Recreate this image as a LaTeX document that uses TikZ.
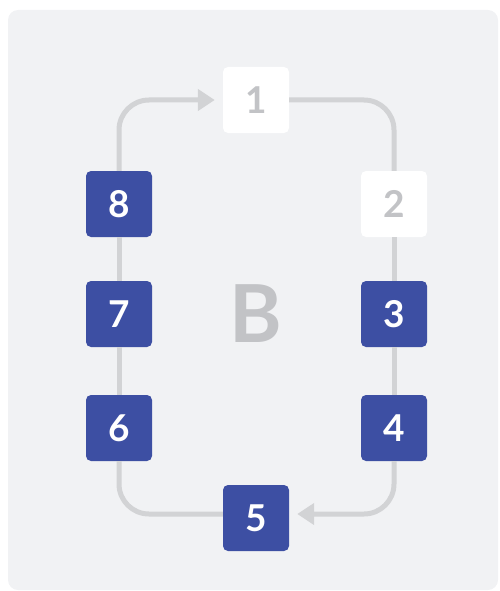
\documentclass[tikz,border=0pt]{standalone}
\usepackage{fontspec}
\setmainfont{Lato}
\usetikzlibrary{arrows.meta}
\definecolor{panel}{HTML}{F1F2F4}
\definecolor{navy}{HTML}{3D4FA3}
\definecolor{wire}{HTML}{D2D3D5}
\definecolor{ghost}{HTML}{C2C3C6}
\tikzset{
  stepbox/.style={minimum width=66pt,minimum height=66pt,rounded corners=5pt,inner sep=0pt,
     font=\fontsize{37}{37}\selectfont\bfseries},
  active/.style={stepbox,fill=navy,text=white},
  idle/.style={stepbox,fill=white,text=ghost},
  wireline/.style={draw=wire,line width=5pt,rounded corners=30pt},
  tipped/.style={-{Triangle[length=17pt,width=21pt]}}
}
\begin{document}
\begin{tikzpicture}[x=1pt,y=-1pt]
\useasboundingbox (0,0) rectangle (500,591);
\fill[panel,rounded corners=10pt] (8,10) rectangle (498,590);
\node[idle] (n1) at (256,100) {1};
\node[idle] (n2) at (394,204) {2};
\node[active] (n3) at (394,314) {3};
\node[active] (n4) at (394,428) {4};
\node[active] (n5) at (256,518) {5};
\node[active] (n6) at (119,428) {6};
\node[active] (n7) at (119,314) {7};
\node[active] (n8) at (119,204) {8};
\node[text=ghost,font=\fontsize{80}{80}\selectfont\bfseries] (b) at (256,314) {B};
\coordinate (a1) at ([xshift=-8pt]n1.west);
\coordinate (a5) at ([xshift=8pt,yshift=4pt]n5.east);
\coordinate (s5) at ([yshift=4pt]n5.west);
\draw[wireline] (n1.east) -| (n2.north);
\draw[wireline] (n2.south) -- (n3.north);
\draw[wireline] (n3.south) -- (n4.north);
\draw[wireline,tipped] (n4.south) |- (a5);
\draw[wireline] (s5) -| (n6.south);
\draw[wireline] (n6.north) -- (n7.south);
\draw[wireline] (n7.north) -- (n8.south);
\draw[wireline,tipped] (n8.north) |- (a1);
\end{tikzpicture}
\end{document}
